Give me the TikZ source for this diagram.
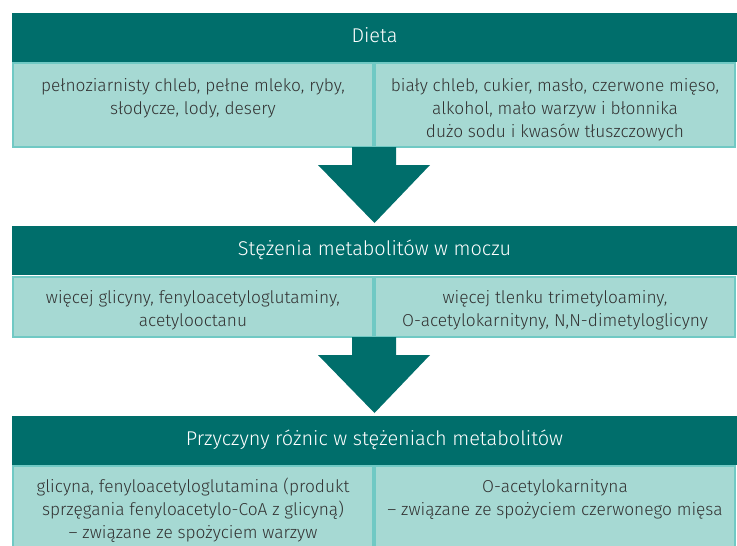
\documentclass[tikz,border=0pt]{standalone}
\usepackage{fontspec}
\setmainfont{Fira Sans}[UprightFont=* Light]
\usetikzlibrary{calc,positioning}
\definecolor{darkteal}{RGB}{0,110,107}
\definecolor{cellfill}{RGB}{166,217,211}
\definecolor{cellline}{RGB}{112,201,196}
\definecolor{celltext}{RGB}{50,50,50}
\tikzstyle{header} = [%
					fill = darkteal,
					text = white,
					minimum width = 725, minimum height = 49,
					text height = 14, text depth = 4,
					inner sep = 0, outer sep = 0,
					anchor = north west,
					font = \fontsize{19.9}{24}\selectfont]
\tikzstyle{cell} = [%
					fill = cellfill,
					draw = cellline,
					line width = 1.5,
					inner sep = 0, outer sep = 0,
					anchor = north west,
					text = celltext,
					font = \fontsize{17.3}{23}\selectfont]
% #1 height of the cell, #2 first baseline from top, #3 text
\newcommand{\cellbox}[3]{\parbox[t][#1pt][t]{360pt}{\centering\rule{0pt}{#2pt}#3}}
% #1 top of the stem, #2 node the arrow points at
\newcommand{\bigarrow}[2]{\fill[darkteal] ($(#1)+(-22,0)$) -- ++(0,18) -- ++(-34,0) -- ($(#2)+(0,-3)$) -- ($(#1)+(56,18)$) -- ($(#1)+(22,18)$) -- ($(#1)+(22,0)$) -- cycle;}

\begin{document}
\begin{tikzpicture}[x=1pt, y=-1pt]

	\clip (0,0) rectangle (737,546);

	% Dieta
	\node[header] (h1) at (12,13) {Dieta};
	\node[cell] (c1l) at (13,63) {\cellbox{84}{28}{pełnoziarnisty chleb, pełne mleko, ryby,\\ słodycze, lody, desery}};
	\node[cell] (c1r) at (375,63) {\cellbox{84}{28}{biały chleb, cukier, masło, czerwone mięso,\\ alkohol, mało warzyw i błonnika\\ dużo sodu i kwasów tłuszczowych}};

	% Stezenia
	\node[header] (h2) at (12,226) {Stężenia metabolitów w moczu};
	\node[cell] (c2l) at (13,277) {\cellbox{60}{26}{więcej glicyny, fenyloacetyloglutaminy,\\ acetylooctanu}};
	\node[cell] (c2r) at (375,277) {\cellbox{60}{26}{więcej tlenku trimetyloaminy,\\ O-acetylokarnityny, N,N-dimetyloglicyny}};

	% Przyczyny
	\node[header] (h3) at (12,416) {Przyczyny różnic w stężeniach metabolitów};
	\node[cell] (c3l) at (13,466) {\cellbox{100}{26}{glicyna, fenyloacetyloglutamina (produkt\\ sprzęgania fenyloacetylo-CoA z glicyną)\\ – związane ze spożyciem warzyw}};
	\node[cell] (c3r) at (375,466) {\cellbox{100}{26}{O-acetylokarnityna\\ – związane ze spożyciem czerwonego mięsa}};

	% Arrows
	\coordinate (a1) at ($(c1l.south east)!.5!(c1r.south west)$);
	\coordinate (a2) at ($(c2l.south east)!.5!(c2r.south west)$);
	\bigarrow{a1}{h2.north}
	\bigarrow{a2}{h3.north}

\end{tikzpicture}
\end{document}
